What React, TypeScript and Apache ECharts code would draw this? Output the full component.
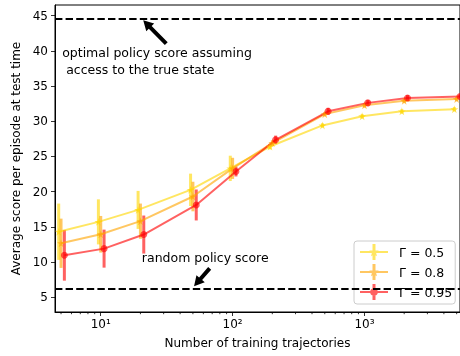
import React, { useEffect, useRef } from "react";
import * as echarts from "echarts";

// ---- data ----
const trajectories = [5, 10, 20, 50, 100, 200, 500, 1000, 2000, 5000];
const gammaLabels = ["Γ = 0.5", "Γ = 0.8", "Γ = 0.95"];
const score05 = [14.3, 15.7, 17.4, 20.25, 23.3, 26.4, 29.4, 30.7, 31.4, 31.7];
const err05 = [4.0, 3.2, 2.7, 2.3, 1.8, 0.4, 0.3, 0.3, 0.3, 0.3];
const score08 = [12.66, 13.94, 15.8, 19.3, 23.3, 26.9, 31.0, 32.25, 32.9, 33.15];
const err08 = [3.5, 2.6, 2.5, 2.1, 1.5, 0.4, 0.3, 0.3, 0.3, 0.3];
const score095 = [10.95, 11.9, 13.9, 18.1, 22.85, 27.35, 31.4, 32.6, 33.3, 33.5];
const err095 = [3.6, 2.7, 2.7, 2.2, 0.7, 0.6, 0.5, 0.4, 0.4, 0.3];
const xJitter = [0.96, 1.0, 1.06];
const optimalScore = 44.5;
const randomScore = 6.25;
const xMajorTickLabels = ["10¹", "10²", "10³"];
const xMinorTicks = [5, 6, 7, 8, 9, 20, 30, 40, 50, 60, 70, 80, 90, 200, 300, 400, 500, 600, 700, 800, 900, 2000, 3000, 4000, 5000];
const optimalText = "optimal policy score assuming\n access to the true state";
const randomText = "random policy score";

const X_MIN = 4.5;
const X_MAX = 5300;
const Y_MIN = 2.9;
const Y_MAX = 46.5;

const colors = ["rgba(255,215,0,0.62)", "rgba(255,165,0,0.62)", "rgba(255,0,0,0.62)"];
const STAR = "path://M50,0 L61,35 L98,35 L68,57 L79,91 L50,70 L21,91 L32,57 L2,35 L39,35 Z";
const symbols = [STAR, STAR, "circle"];
const FONT = "DejaVu Sans";

const ICON_BARS = "M0,7 H28 V9 H0 Z M12.5,0 H15.5 V16 H12.5 Z";
const ICON_STAR = "M14,3 L15.3,6.3 L18.8,6.5 L16.1,8.7 L17,12.2 L14,10.2 L11,12.2 L11.9,8.7 L9.2,6.5 L12.7,6.3 Z";
const ICON_CIRCLE = "M10.2,8 A3.8,3.8 0 1 1 17.8,8 A3.8,3.8 0 1 1 10.2,8 Z";
const legendIcons = [
  "path://" + ICON_BARS + " " + ICON_STAR,
  "path://" + ICON_BARS + " " + ICON_STAR,
  "path://" + ICON_BARS + " " + ICON_CIRCLE,
];

function arrowPoints(tail: number[], tip: number[], headLen: number, headHalf: number, shaftHalf: number) {
  const dx = tip[0] - tail[0];
  const dy = tip[1] - tail[1];
  const len = Math.sqrt(dx * dx + dy * dy);
  const ux = dx / len, uy = dy / len;
  const nx = -uy, ny = ux;
  const bx = tip[0] - ux * headLen, by = tip[1] - uy * headLen;
  return [
    [tail[0] + nx * shaftHalf, tail[1] + ny * shaftHalf],
    [bx + nx * shaftHalf, by + ny * shaftHalf],
    [bx + nx * headHalf, by + ny * headHalf],
    [tip[0], tip[1]],
    [bx - nx * headHalf, by - ny * headHalf],
    [bx - nx * shaftHalf, by - ny * shaftHalf],
    [tail[0] - nx * shaftHalf, tail[1] - ny * shaftHalf],
  ];
}

export default function App() {
  const ref = useRef<HTMLDivElement>(null);
  useEffect(() => {
    if (!ref.current) return;
    const chart = echarts.init(ref.current, undefined, { renderer: "svg" });
    const scores = [score05, score08, score095];
    const errs = [err05, err08, err095];
    const series: any[] = [];
    scores.forEach((s, i) => {
      const xs = trajectories.map((t) => t * xJitter[i]);
      series.push({
        type: "custom",
        silent: true,
        z: 3,
        data: xs.map((x, k) => [x, s[k] - errs[i][k], s[k] + errs[i][k]]),
        encode: { x: 0, y: [1, 2] },
        renderItem: (params: any, api: any) => {
          const p1 = api.coord([api.value(0), api.value(1)]);
          const p2 = api.coord([api.value(0), api.value(2)]);
          return {
            type: "line",
            shape: { x1: p1[0], y1: p1[1], x2: p2[0], y2: p2[1] },
            style: { stroke: colors[i], lineWidth: 3 },
          };
        },
      });
      series.push({
        type: "line",
        name: gammaLabels[i],
        z: 3,
        data: xs.map((x, k) => [x, s[k]]),
        symbol: symbols[i],
        symbolSize: i === 2 ? 7 : 8,
        showAllSymbol: true,
        lineStyle: { color: colors[i], width: 2 },
        itemStyle: { color: colors[i] },
      });
    });
    // minor ticks on log axis
    series.push({
      type: "custom",
      silent: true,
      data: xMinorTicks.map((v) => [v, Y_MIN]),
      encode: { x: 0, y: 1 },
      renderItem: (params: any, api: any) => {
        const p = api.coord([api.value(0), api.value(1)]);
        return {
          type: "line",
          shape: { x1: p[0], y1: p[1], x2: p[0], y2: p[1] + 2.2 },
          style: { stroke: "#000", lineWidth: 0.8 },
        };
      },
    });
    // reference dashed lines
    series.push({
      type: "line",
      data: [],
      markLine: {
        symbol: "none",
        silent: true,
        label: { show: false },
        lineStyle: { type: [7.4, 3.2], color: "#000", width: 2 },
        data: [{ yAxis: optimalScore }, { yAxis: randomScore }],
      },
    });

    chart.setOption({
      animation: false,
      grid: { left: 55, top: 5, width: 410, height: 307, show: true, borderColor: "#000", borderWidth: 1 },
      xAxis: {
        type: "log",
        min: X_MIN,
        max: X_MAX,
        logBase: 10,
        name: "Number of training trajectories",
        nameLocation: "middle",
        nameGap: 25,
        nameTextStyle: { fontFamily: FONT, fontSize: 12, color: "#000" },
        axisLine: { lineStyle: { color: "#000", width: 1 } },
        axisTick: { inside: false, length: 4, lineStyle: { color: "#000", width: 0.8 } },
        axisLabel: {
          showMinLabel: false,
          showMaxLabel: false,
          margin: 6,
          color: "#000",
          fontFamily: FONT,
          fontSize: 12,
          formatter: (v: number) => {
            const e = Math.round(Math.log10(v));
            const lbl = xMajorTickLabels[e - 1] || "";
            return `10{sup|${lbl.slice(2)}}`;
          },
          rich: {
            sup: { fontSize: 12, fontFamily: FONT, color: "#000" },
          },
        },
        splitLine: { show: false },
      },
      yAxis: {
        type: "value",
        min: Y_MIN,
        max: Y_MAX,
        splitNumber: 9,
        name: "Average score per episode at test time",
        nameLocation: "middle",
        nameGap: 31,
        nameTextStyle: { fontFamily: FONT, fontSize: 12, color: "#000" },
        axisLine: { show: true, lineStyle: { color: "#000", width: 1 } },
        axisTick: { show: true, inside: false, length: 4, lineStyle: { color: "#000", width: 0.8 } },
        axisLabel: {
          showMinLabel: false,
          showMaxLabel: false,
          margin: 7,
          color: "#000",
          fontFamily: FONT,
          fontSize: 12,
        },
        splitLine: { show: false },
      },
      legend: {
        data: gammaLabels.map((name, i) => ({ name, icon: legendIcons[i] })),
        orient: "vertical",
        left: 354,
        top: 241,
        padding: [3, 3, 4, 6],
        itemGap: 4,
        itemWidth: 28,
        itemHeight: 16,
        backgroundColor: "rgba(255,255,255,0.85)",
        borderColor: "#ccc",
        borderWidth: 1,
        borderRadius: 3,
        textStyle: { fontFamily: FONT, fontSize: 12.5, color: "#000", padding: [0, 0, 0, 6] },
      },
      series,
    });

    const toPx = (p: number[]) => chart.convertToPixel({ xAxisIndex: 0, yAxisIndex: 0 }, p) as number[];
    const optTip = toPx([21, 44.35]);
    const optTail = toPx([31.4, 41.0]);
    const rndTip = toPx([51, 6.55]);
    const rndTail = toPx([67, 9.1]);
    const optPos = toPx([5.1, 39.75]);
    const rndPos = toPx([20.5, 10.68]);
    chart.setOption({
      graphic: [
        {
          type: "polygon",
          z: 10,
          shape: { points: arrowPoints(optTail, optTip, 10, 5.5, 2) },
          style: { fill: "#000" },
        },
        {
          type: "polygon",
          z: 10,
          shape: { points: arrowPoints(rndTail, rndTip, 10, 5.5, 2) },
          style: { fill: "#000" },
        },
        {
          type: "text",
          z: 10,
          x: optPos[0],
          y: optPos[1] - 8.5,
          style: { text: optimalText, fontFamily: FONT, fontSize: 12.5, fill: "#000", lineHeight: 17, verticalAlign: "top" },
        },
        {
          type: "text",
          z: 10,
          x: rndPos[0],
          y: rndPos[1],
          style: { text: randomText, fontFamily: FONT, fontSize: 12.5, fill: "#000", verticalAlign: "middle" },
        },
      ],
    });
    return () => chart.dispose();
  }, []);
  return <div ref={ref} style={{ position: "fixed", left: 0, top: 0, width: 460, height: 356 }} />;
}
